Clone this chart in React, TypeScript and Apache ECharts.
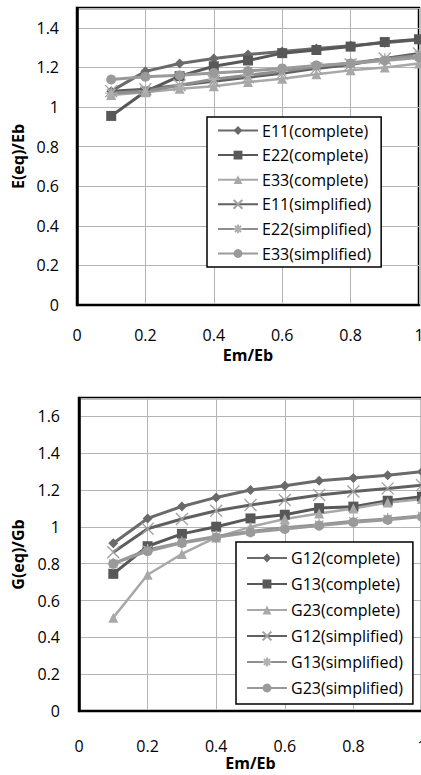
import React, { useEffect, useRef } from "react";
import * as echarts from "echarts";

const xs = [0.1, 0.2, 0.3, 0.4, 0.5, 0.6, 0.7, 0.8, 0.9, 1.0];

const e11Complete = [1.08, 1.18, 1.22, 1.245, 1.265, 1.28, 1.295, 1.31, 1.325, 1.34];
const e22Complete = [0.955, 1.078, 1.156, 1.206, 1.235, 1.272, 1.288, 1.305, 1.328, 1.342];
const e33Complete = [1.06, 1.075, 1.092, 1.105, 1.126, 1.143, 1.165, 1.185, 1.2, 1.22];
const e11Simplified = [1.08, 1.09, 1.11, 1.13, 1.15, 1.17, 1.195, 1.215, 1.245, 1.27];
const e22Simplified = [1.07, 1.08, 1.11, 1.14, 1.16, 1.18, 1.205, 1.222, 1.243, 1.26];
const e33Simplified = [1.139, 1.153, 1.16, 1.172, 1.182, 1.195, 1.21, 1.22, 1.235, 1.25];

const g12Complete = [0.911, 1.046, 1.111, 1.16, 1.2, 1.223, 1.25, 1.265, 1.281, 1.3];
const g13Complete = [0.745, 0.895, 0.962, 1.001, 1.046, 1.066, 1.102, 1.11, 1.142, 1.164];
const g23Complete = [0.507, 0.74, 0.853, 0.943, 1.0, 1.043, 1.073, 1.1, 1.133, 1.151];
const g12Simplified = [0.862, 0.99, 1.043, 1.088, 1.119, 1.146, 1.173, 1.192, 1.209, 1.227];
const g13Simplified = [0.8, 0.875, 0.915, 0.948, 0.975, 0.995, 1.012, 1.03, 1.043, 1.06];
const g23Simplified = [0.8, 0.868, 0.913, 0.943, 0.971, 0.989, 1.007, 1.025, 1.039, 1.055];

const xTicks = { min: 0, max: 1, interval: 0.2 };
const topY = { min: 0, max: 1.5, interval: 0.2 };
const botY = { min: 0, max: 1.7, interval: 0.2 };

const FONT = "Open Sans";
const X_SYMBOL = "path://M0,0L10,10M10,0L0,10";
const STAR_SYMBOL = "path://M0,5L10,5M5,0L5,10M1.5,1.5L8.5,8.5M8.5,1.5L1.5,8.5";

type Style = { symbol: string; size: number; line: string; mark: string; width: number; stroke?: boolean };

const styles: Style[] = [
  { symbol: "diamond", size: 10, line: "#6a6a6a", mark: "#6a6a6a", width: 3 },
  { symbol: "rect", size: 10, line: "#585858", mark: "#585858", width: 3 },
  { symbol: "triangle", size: 10, line: "#a8a8a8", mark: "#a8a8a8", width: 2.5 },
  { symbol: X_SYMBOL, size: 12, line: "#606060", mark: "#a0a0a0", width: 3, stroke: true },
  { symbol: STAR_SYMBOL, size: 12, line: "#8e8e8e", mark: "#b0b0b0", width: 3, stroke: true },
  { symbol: "circle", size: 10, line: "#9a9a9a", mark: "#9a9a9a", width: 3 },
];

function makeSeries(name: string, vals: number[], st: Style, idx: number) {
  return {
    type: "line",
    name,
    xAxisIndex: idx,
    yAxisIndex: idx,
    data: xs.map((x, i) => [x, vals[i]]),
    symbol: st.symbol,
    symbolSize: st.size,
    showSymbol: true,
    lineStyle: { color: st.line, width: st.width },
    itemStyle: st.stroke
      ? { color: "rgba(0,0,0,0)", borderColor: st.mark, borderWidth: 1.3 }
      : { color: st.mark, borderColor: st.mark, borderWidth: 0 },
    z: 3,
  };
}

const topNames = ["E11(complete)", "E22(complete)", "E33(complete)", "E11(simplified)", "E22(simplified)", "E33(simplified)"];
const botNames = ["G12(complete)", "G13(complete)", "G23(complete)", "G12(simplified)", "G13(simplified)", "G23(simplified)"];
const topVals = [e11Complete, e22Complete, e33Complete, e11Simplified, e22Simplified, e33Simplified];
const botVals = [g12Complete, g13Complete, g23Complete, g12Simplified, g13Simplified, g23Simplified];

function xAxis(gridIndex: number, labelMargin: number, nameGap: number) {
  return {
    type: "value",
    gridIndex,
    ...xTicks,
    name: "Em/Eb",
    nameLocation: "middle",
    nameGap,
    nameTextStyle: { fontFamily: FONT, fontSize: 16, fontWeight: "bold", color: "#000" },
    axisLine: { show: true, lineStyle: { color: "#000", width: 2 } },
    axisTick: { show: false },
    axisLabel: { margin: labelMargin, fontFamily: FONT, fontSize: 16, color: "#000" },
    splitLine: { show: true, lineStyle: { color: "#b4b4b4", width: 1 } },
  };
}

function yAxis(gridIndex: number, range: any, name: string, nameGap: number, labelMargin: number) {
  return {
    type: "value",
    gridIndex,
    ...range,
    name,
    nameLocation: "middle",
    nameGap,
    nameTextStyle: { fontFamily: FONT, fontSize: 16, fontWeight: "bold", color: "#000" },
    axisLine: { show: true, lineStyle: { color: "#000", width: 2.5 } },
    axisTick: { show: false },
    axisLabel: { margin: labelMargin, fontFamily: FONT, fontSize: 16, color: "#000", showMaxLabel: false },
    splitLine: { show: true, lineStyle: { color: "#b4b4b4", width: 1 } },
  };
}

function legend(names: string[], left: number, top: number, lineHeight: number, gap: number, pad: number) {
  return {
    data: names,
    orient: "vertical",
    left,
    top,
    padding: [pad, 10, pad, 10],
    itemWidth: 40,
    itemHeight: 11,
    itemGap: gap,
    backgroundColor: "#fff",
    borderColor: "#000",
    borderWidth: 1.5,
    borderRadius: 0,
    textStyle: { fontFamily: FONT, fontSize: 16, color: "#000", lineHeight, padding: [0, 0, 0, -1] },
  };
}

export default function App() {
  const ref = useRef<HTMLDivElement>(null);
  useEffect(() => {
    if (!ref.current) return;
    const chart = echarts.init(ref.current, undefined, { renderer: "svg" });
    const series: any[] = [];
    topNames.forEach((n, i) => series.push(makeSeries(n, topVals[i], styles[i], 0)));
    botNames.forEach((n, i) => series.push(makeSeries(n, botVals[i], styles[i], 1)));
    chart.setOption({
      animation: false,
      backgroundColor: "#fff",
      grid: [
        { left: 77, top: 8, right: 2, bottom: 470, show: true, borderColor: "#000", borderWidth: 2.5, backgroundColor: "#fff", containLabel: false, outerBoundsMode: "none" },
        { left: 79, top: 398, right: -1, bottom: 64, show: true, borderColor: "#000", borderWidth: 2.5, backgroundColor: "#fff", containLabel: false, outerBoundsMode: "none" },
      ],
      xAxis: [xAxis(0, 22, 42), xAxis(1, 27, 44)],
      yAxis: [yAxis(0, topY, "E(eq)/Eb", 51, 18), yAxis(1, botY, "G(eq)/Gb", 53, 19)],
      legend: [legend(topNames, 207, 117, 17, 7.6, 5), legend(botNames, 236, 542, 18, 8, 7)],
      series,
    });
    return () => chart.dispose();
  }, []);
  return <div ref={ref} style={{ position: "fixed", left: 0, top: 0, width: 421, height: 775 }} />;
}
